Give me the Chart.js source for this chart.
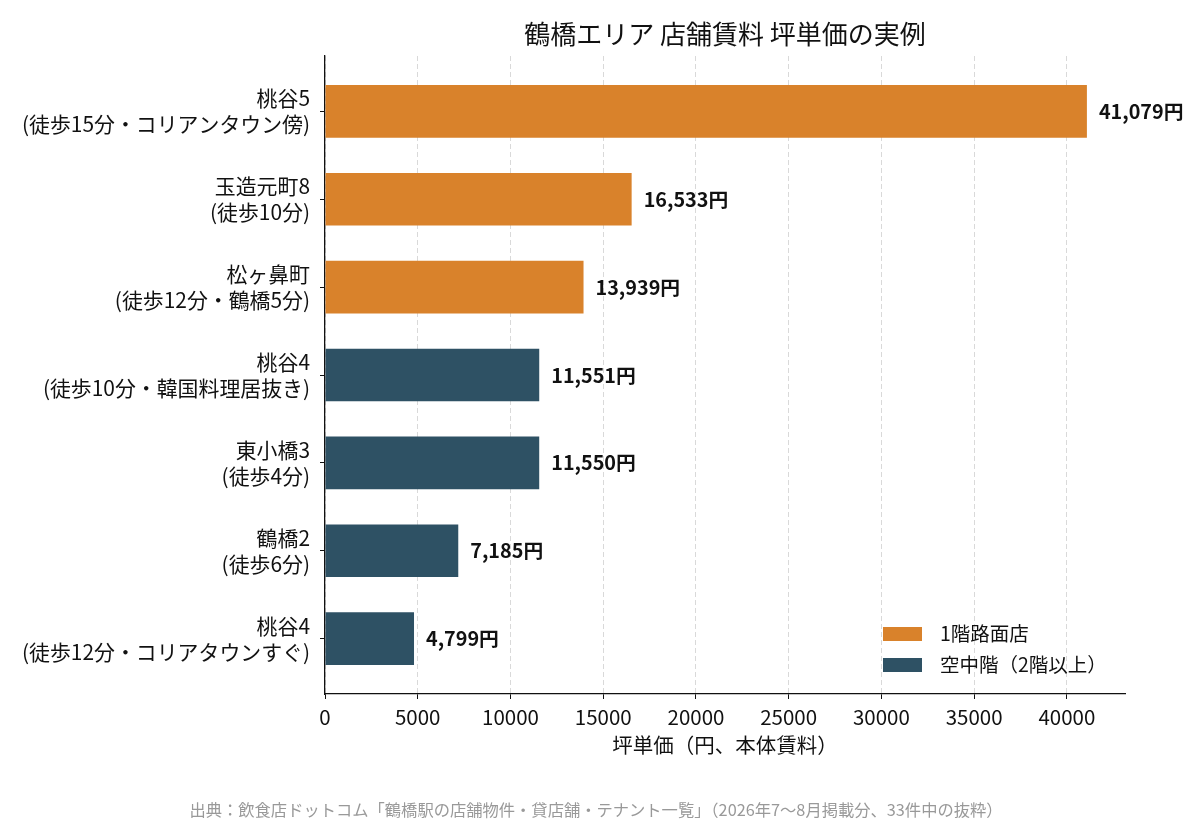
<!DOCTYPE html>
<html lang="ja">
<head>
<meta charset="UTF-8">
<title>鶴橋エリア 店舗賃料 坪単価の実例</title>
<script src="https://cdn.jsdelivr.net/npm/chart.js"></script>
<style>
  html, body { margin: 0; padding: 0; background: #fff; }
  #wrap { width: 1200px; height: 825px; position: relative; }
</style>
</head>
<body>
<div id="wrap"><canvas id="rentChart"></canvas></div>
<script>
// データ（上から順）
const categories = [
    ['桃谷5', '(徒歩15分・コリアンタウン傍)'],
    ['玉造元町8', '(徒歩10分)'],
    ['松ヶ鼻町', '(徒歩12分・鶴橋5分)'],
    ['桃谷4', '(徒歩10分・韓国料理居抜き)'],
    ['東小橋3', '(徒歩4分)'],
    ['鶴橋2', '(徒歩6分)'],
    ['桃谷4', '(徒歩12分・コリアタウンすぐ)']
];
const rentPerTsubo = [41079, 16533, 13939, 11551, 11550, 7185, 4799];
const floorType = ['1F', '1F', '1F', 'UP', 'UP', 'UP', 'UP'];
const seriesLabels = { '1F': '1階路面店', 'UP': '空中階（2階以上）' };
const xTicks = [0, 5000, 10000, 15000, 20000, 25000, 30000, 35000, 40000];

const titleText = '鶴橋エリア 店舗賃料 坪単価の実例';
const xTitleText = '坪単価（円、本体賃料）';
const sourceText = '出典：飲食店ドットコム「鶴橋駅の店舗物件・貸店舗・テナント一覧」（2026年7〜8月掲載分、33件中の抜粋）';

const colors = { '1F': '#d9822b', 'UP': '#2e5164' };
const FONT = "'Noto Sans CJK JP', 'Noto Sans', sans-serif";

function pointsFor(type) {
    const pts = [];
    rentPerTsubo.forEach((v, i) => {
        if (floorType[i] === type) pts.push({ x: v, y: i });
    });
    return pts;
}

Chart.defaults.font.family = FONT;
Chart.defaults.color = '#111';

// 棒の右に値を表示
const valueLabels = {
    id: 'valueLabels',
    afterDatasetsDraw(chart) {
        const ctx = chart.ctx;
        ctx.save();
        ctx.font = 'bold 19.8px ' + FONT;
        ctx.fillStyle = '#111';
        ctx.textAlign = 'left';
        ctx.textBaseline = 'middle';
        chart.data.datasets.forEach((ds, di) => {
            chart.getDatasetMeta(di).data.forEach((bar, j) => {
                const v = ds.data[j].x;
                ctx.fillText(v.toLocaleString('en-US') + '円', bar.x + 12, bar.y);
            });
        });
        ctx.restore();
    }
};

// タイトル・凡例・出典
const extras = {
    id: 'extras',
    afterDraw(chart) {
        const ctx = chart.ctx;
        const area = chart.chartArea;
        ctx.save();
        ctx.fillStyle = '#111';
        ctx.textAlign = 'center';
        ctx.textBaseline = 'middle';
        ctx.font = '26px ' + FONT;
        ctx.fillText(titleText, (area.left + area.right) / 2, 34);

        // 凡例
        ctx.font = '19.5px ' + FONT;
        ctx.textAlign = 'left';
        chart.data.datasets.forEach((ds, i) => {
            const y = 627 + i * 31;
            ctx.fillStyle = ds.backgroundColor;
            ctx.fillRect(883, y, 39, 14);
            ctx.fillStyle = '#111';
            ctx.fillText(ds.label, 940, y + 7);
        });

        ctx.fillStyle = '#999';
        ctx.textAlign = 'center';
        ctx.font = '16.3px ' + FONT;
        ctx.fillText(sourceText, 596, 810);
        ctx.restore();
    }
};

new Chart(document.getElementById('rentChart'), {
    type: 'bar',
    data: {
        datasets: [
            { label: seriesLabels['1F'], data: pointsFor('1F'), backgroundColor: colors['1F'] },
            { label: seriesLabels['UP'], data: pointsFor('UP'), backgroundColor: colors['UP'] }
        ]
    },
    options: {
        indexAxis: 'y',
        responsive: true,
        maintainAspectRatio: false,
        animation: false,
        grouped: false,
        categoryPercentage: 1,
        barPercentage: 0.6,
        layout: { padding: { top: 56, right: 75, bottom: 60, left: 0 } },
        plugins: {
            legend: { display: false },
            tooltip: { enabled: false }
        },
        scales: {
            x: {
                type: 'linear',
                min: 0,
                max: 43133,
                z: 1,
                afterFit(scale) { scale.height = 71; },
                afterBuildTicks(scale) { scale.ticks = xTicks.map(v => ({ value: v })); },
                ticks: {
                    font: { size: 20.5 },
                    color: '#111',
                    padding: 6,
                    maxRotation: 0,
                    callback: v => String(v)
                },
                grid: {
                    color: 'rgba(185,185,185,0.55)',
                    lineWidth: 1,
                    tickColor: '#111',
                    tickLength: 5,
                    tickWidth: 1
                },
                border: { display: true, color: '#111', width: 1.3, dash: [5, 3] },
                title: {
                    display: true,
                    text: xTitleText,
                    font: { size: 20.5 },
                    color: '#111',
                    padding: { top: 0, bottom: 7 }
                }
            },
            y: {
                type: 'linear',
                min: -0.63,
                max: 6.63,
                reverse: true,
                offset: false,
                afterFit(scale) { scale.width = 325; },
                afterBuildTicks(scale) { scale.ticks = categories.map((c, i) => ({ value: i })); },
                ticks: {
                    autoSkip: false,
                    font: { size: 20.9, lineHeight: 1.25 },
                    color: '#111',
                    padding: 10,
                    callback: v => categories[v]
                },
                grid: {
                    offset: false,
                    drawOnChartArea: false,
                    tickColor: '#111',
                    tickLength: 5,
                    tickWidth: 1
                },
                border: { display: true, color: '#111', width: 1.3 }
            }
        }
    },
    plugins: [valueLabels, extras]
});
</script>
</body>
</html>
